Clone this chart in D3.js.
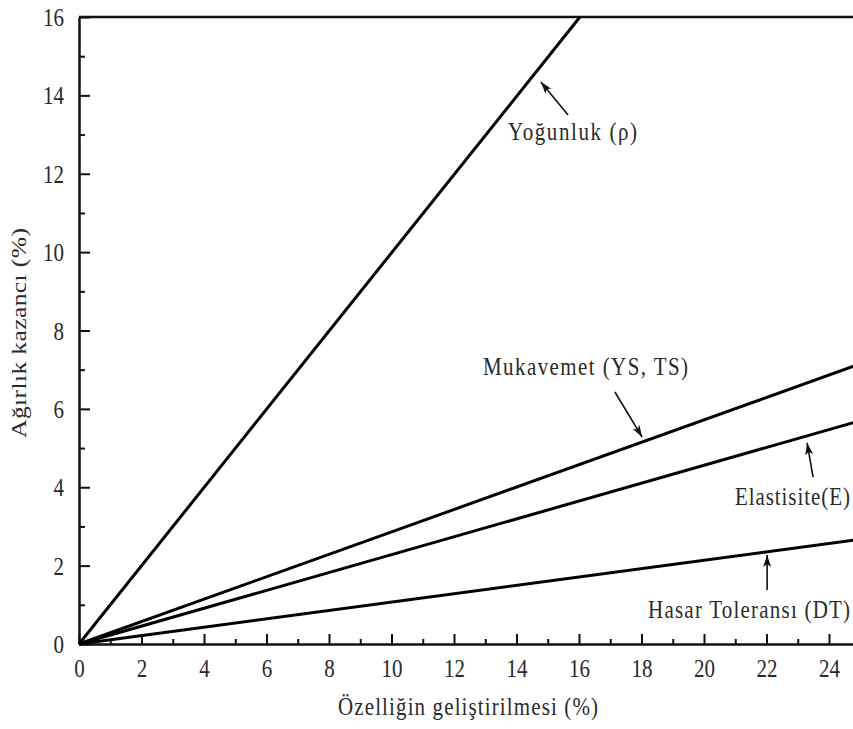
<!DOCTYPE html>
<html>
<head>
<meta charset="utf-8">
<script src="https://cdn.jsdelivr.net/npm/d3@7"></script>
<style>
  body { margin: 0; background: #fff; }
  svg { display: block; }
</style>
</head>
<body>
<div id="chart"></div>
<script>
// Données (droites passant par l'origine)
const xMajor = [0, 2, 4, 6, 8, 10, 12, 14, 16, 18, 20, 22, 24];
const xMinor = [1, 3, 5, 7, 9, 11, 13, 15, 17, 19, 21, 23, 25];
const yMajor = [0, 2, 4, 6, 8, 10, 12, 14, 16];
const yMinor = [1, 3, 5, 7, 9, 11, 13, 15];

const yogunluk   = [[0, 0], [16.03, 16]];
const mukavemet  = [[0, 0], [25, 7.15]];
const elastisite = [[0, 0], [25, 5.70]];
const hasar      = [[0, 0], [25, 2.67]];

// Étiquettes et flèches (coordonnées en unités des axes)
const labelTexts = ["Yoğunluk (ρ)", "Mukavemet (YS, TS)", "Elastisite(E)", "Hasar Toleransı (DT)"];
const labelAt    = [[13.73, 12.86], [12.93, 6.86], [20.99, 3.55], [18.21, 0.66]];
const arrowTail  = [[15.65, 13.50], [17.15, 6.43], [23.49, 4.26], [22.02, 1.38]];
const arrowHead  = [[14.78, 14.34], [18.02, 5.28], [23.30, 5.13], [22.02, 2.27]];

const xTitle = "Özelliğin geliştirilmesi (%)";
const yTitle = "Ağırlık kazancı (%)";

// Mise en page
const width = 853, height = 729;
const stretch = 1.22;           // la figure d'origine est étirée verticalement
const serif = "'Liberation Serif', Tinos, 'Times New Roman', Times, serif";
const labelWidths = [129, 205, 115, 202];

const x = d3.scaleLinear().domain([0, 25]).range([79, 79 + 25 * 31.25]);
const y = d3.scaleLinear().domain([0, 16]).range([644, 17]);

const svg = d3.select("#chart").append("svg")
    .attr("width", width)
    .attr("height", height);

svg.append("defs").append("marker")
    .attr("id", "arrow")
    .attr("markerUnits", "userSpaceOnUse")
    .attr("viewBox", "0 0 12 8")
    .attr("markerWidth", 12)
    .attr("markerHeight", 8)
    .attr("refX", 12)
    .attr("refY", 4)
    .attr("orient", "auto")
    .append("path")
    .attr("d", "M0,0L12,4L0,8L3,4Z")
    .attr("fill", "#111");

// Axe X
const gx = svg.append("g")
    .attr("transform", `translate(0,${y(0)})`)
    .call(d3.axisBottom(x).tickValues(xMajor).tickSizeInner(-10).tickSizeOuter(0));
svg.append("g")
    .attr("transform", `translate(0,${y(0)})`)
    .call(d3.axisBottom(x).tickValues(xMinor).tickSizeInner(-5).tickSizeOuter(0).tickFormat(""))
    .call(g => g.select(".domain").remove());

// Axe Y
const gy = svg.append("g")
    .attr("transform", `translate(${x(0)},0)`)
    .call(d3.axisLeft(y).tickValues(yMajor).tickSizeInner(-11).tickSizeOuter(0));
svg.append("g")
    .attr("transform", `translate(${x(0)},0)`)
    .call(d3.axisLeft(y).tickValues(yMinor).tickSizeInner(-6).tickSizeOuter(0).tickFormat(""))
    .call(g => g.select(".domain").remove());

svg.selectAll("g").attr("font-family", null);
svg.selectAll(".tick line").attr("stroke", "#111").attr("stroke-width", 2);
svg.selectAll(".domain").attr("stroke", "#111").attr("stroke-width", 2.5);

gx.selectAll("text")
    .attr("y", null).attr("dy", null)
    .attr("transform", `translate(0,33) scale(1,${stretch})`);

gy.selectAll("text")
    .attr("x", null).attr("dy", null)
    .attr("transform", `translate(-15,8.5) scale(1,${stretch})`);

// Cadre du haut
svg.append("line")
    .attr("x1", x(0)).attr("x2", x(25))
    .attr("y1", y(16)).attr("y2", y(16))
    .attr("stroke", "#111").attr("stroke-width", 2.5);

// Courbes
const line = d3.line().x(d => x(d[0])).y(d => y(d[1]));
[yogunluk, mukavemet, elastisite, hasar].forEach(s => {
    svg.append("path")
        .attr("d", line(s))
        .attr("fill", "none")
        .attr("stroke", "#000")
        .attr("stroke-width", 3);
});

// Flèches et étiquettes
labelTexts.forEach((t, i) => {
    svg.append("line")
        .attr("x1", x(arrowTail[i][0])).attr("y1", y(arrowTail[i][1]))
        .attr("x2", x(arrowHead[i][0])).attr("y2", y(arrowHead[i][1]))
        .attr("stroke", "#111")
        .attr("stroke-width", 1.6)
        .attr("marker-end", "url(#arrow)");

    svg.append("text")
        .attr("transform", `translate(${x(labelAt[i][0])},${y(labelAt[i][1])}) scale(1,${stretch})`)
        .attr("textLength", labelWidths[i])
        .attr("lengthAdjust", "spacing")
        .text(t);
});

// Titres des axes
svg.append("text")
    .attr("transform", `translate(468,715) scale(1,${stretch})`)
    .attr("text-anchor", "middle")
    .attr("textLength", 260)
    .attr("lengthAdjust", "spacing")
    .text(xTitle);

svg.append("text")
    .attr("transform", `translate(26,333) scale(1,${stretch}) rotate(-90)`)
    .attr("text-anchor", "middle")
    .attr("textLength", 172)
    .attr("lengthAdjust", "spacing")
    .text(yTitle);

// Police commune à tous les textes
svg.selectAll("text")
    .style("font-family", serif)
    .style("font-size", "21px")
    .style("fill", "#2a2a2a");
</script>
</body>
</html>
